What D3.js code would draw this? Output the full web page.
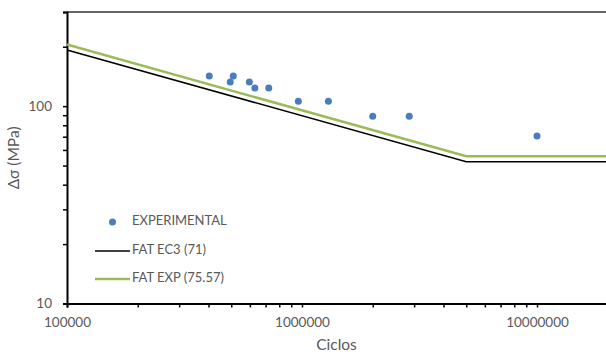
<!DOCTYPE html>
<html>
<head>
<meta charset="utf-8">
<script src="https://cdn.jsdelivr.net/npm/d3@7"></script>
<style>
  body { margin: 0; background: #fff; }
  svg text { font-family: Lato, "Open Sans", sans-serif; fill: #595959; }
</style>
</head>
<body>
<svg id="chart"></svg>
<script>
"use strict";

// ==========================
// data
// ==========================
var expCycles = [403000, 495000, 510000, 597000, 630000, 722000, 965000, 1295000, 2000000, 2860000, 10000000];
var expStress = [142, 132.5, 142, 132.5, 123.5, 123.5, 106, 106, 89, 89, 70.5];

// S-N curves: [cycles, stress]
var ec3Cycles = [100000, 5000000, 20000000];
var ec3Stress = [192.7, 52.3, 52.3];
var expCurveCycles = [100000, 5000000, 20000000];
var expCurveStress = [205.1, 55.7, 55.7];

var xTickValues = [100000, 1000000, 10000000];
var yTickValues = [10, 100];

var legendLabels = ["EXPERIMENTAL", "FAT EC3 (71)", "FAT EXP (75.57)"];

// ==========================
// chart
// ==========================
var width = 606,
    height = 356,
    margin = { top: 12, right: 0, bottom: 52.5, left: 67 };

var svg = d3.select("#chart").attr("width", width).attr("height", height);

var x = d3.scaleLog().domain([100000, 20000000]).range([margin.left, margin.left + 235 * Math.log10(200)]),
    y = d3.scaleLog().domain([10, 300]).range([height - margin.bottom, margin.top]);

// minor tick values
var xMinor = [], yMinor = [];
[100000, 1000000, 10000000].forEach(function (d) {
  d3.range(1, 10).forEach(function (k) { if (d * k <= 20000000) xMinor.push(d * k); });
});
[10, 100].forEach(function (d) {
  d3.range(1, 10).forEach(function (k) { if (d * k <= 300) yMinor.push(d * k); });
});

// top frame line
svg.append("line")
  .attr("x1", margin.left).attr("x2", width)
  .attr("y1", y(300)).attr("y2", y(300))
  .attr("stroke", "#333").attr("stroke-width", 1.5);

// axes
var xAxis = svg.append("g")
  .attr("transform", "translate(0," + y(10) + ")")
  .call(d3.axisBottom(x).tickValues(xMinor).tickSize(4).tickFormat(function (d) {
    return xTickValues.indexOf(d) >= 0 ? d3.format("d")(d) : "";
  }));
var yAxis = svg.append("g")
  .attr("transform", "translate(" + x(100000) + ",0)")
  .call(d3.axisLeft(y).tickValues(yMinor).tickSize(4).tickFormat(function (d) {
    return yTickValues.indexOf(d) >= 0 ? d : "";
  }));

[xAxis, yAxis].forEach(function (a) {
  a.select(".domain").attr("stroke", "#000").attr("stroke-width", 2);
  a.selectAll(".tick line").attr("stroke", "#000").attr("stroke-width", 1.5);
  a.selectAll(".tick text").style("font-family", "Lato, sans-serif").style("font-size", "13.5px").attr("fill", "#595959");
});
xAxis.selectAll(".tick text").attr("dy", "1.25em");
yAxis.selectAll(".tick text").attr("x", -15);

// S-N lines
var line = d3.line().x(function (d) { return x(d[0]); }).y(function (d) { return y(d[1]); });

svg.append("path")
  .datum(d3.zip(ec3Cycles, ec3Stress))
  .attr("d", line).attr("fill", "none")
  .attr("stroke", "#000").attr("stroke-width", 1.6);

svg.append("path")
  .datum(d3.zip(expCurveCycles, expCurveStress))
  .attr("d", line).attr("fill", "none")
  .attr("stroke", "#9BBB59").attr("stroke-width", 2.6);

// experimental points
svg.selectAll(".dot").data(d3.zip(expCycles, expStress)).enter().append("circle")
  .attr("class", "dot")
  .attr("cx", function (d) { return x(d[0]); })
  .attr("cy", function (d) { return y(d[1]); })
  .attr("r", 3.5)
  .attr("fill", "#4A7EBB");

// axis titles
svg.append("text")
  .attr("x", (margin.left + width) / 2).attr("y", 346)
  .attr("text-anchor", "middle").attr("dominant-baseline", "middle")
  .style("font-size", "15.5px").text("Ciclos");

svg.append("text")
  .attr("transform", "translate(15," + (y(10) + y(300)) / 2 + ") rotate(-90)")
  .attr("text-anchor", "middle").attr("dominant-baseline", "middle")
  .style("font-size", "15.5px").text("Δσ (MPa)");

// legend
var legend = svg.append("g");
var rows = [222, 251, 279];
legend.append("circle").attr("cx", 112.5).attr("cy", rows[0]).attr("r", 3.5).attr("fill", "#4A7EBB");
legend.append("line").attr("x1", 95).attr("x2", 130).attr("y1", rows[1]).attr("y2", rows[1])
  .attr("stroke", "#000").attr("stroke-width", 1.6);
legend.append("line").attr("x1", 95).attr("x2", 130).attr("y1", rows[2]).attr("y2", rows[2])
  .attr("stroke", "#9BBB59").attr("stroke-width", 2.6);
legend.selectAll(".lbl").data(legendLabels).enter().append("text")
  .attr("class", "lbl")
  .attr("x", 132).attr("y", function (d, i) { return rows[i]; })
  .attr("dominant-baseline", "middle")
  .style("font-size", "13px")
  .text(function (d) { return d; });
</script>
</body>
</html>
